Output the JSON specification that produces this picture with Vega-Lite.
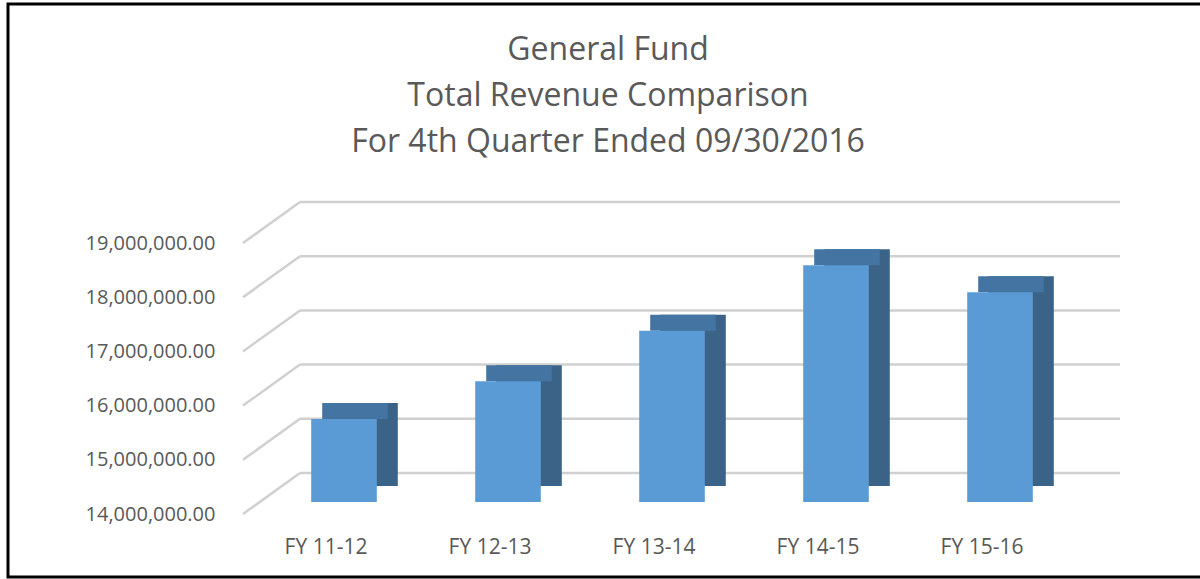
{
  "$schema": "https://vega.github.io/schema/vega-lite/v6.json",
  "width": 1200,
  "height": 573,
  "autosize": "none",
  "padding": {"left": 8, "top": 4, "right": 0, "bottom": 2},
  "background": "white",
  "config": {"view": {"stroke": "black", "strokeWidth": 3}, "font": "Open Sans"},
  "title": {
    "text": ["General Fund", "Total Revenue Comparison", "For 4th Quarter Ended 09/30/2016"],
    "anchor": "middle",
    "font": "Open Sans",
    "fontSize": 32,
    "fontWeight": "normal",
    "color": "#595959",
    "lineHeight": 46,
    "baseline": "bottom",
    "offset": -187
  },
  "datasets": {
    "revenue": [
      {"year": "FY 11-12", "revenue": 15530000},
      {"year": "FY 12-13", "revenue": 16230000},
      {"year": "FY 13-14", "revenue": 17160000},
      {"year": "FY 14-15", "revenue": 18370000},
      {"year": "FY 15-16", "revenue": 17870000}
    ],
    "ticks": [
      {"v": 14000000},
      {"v": 15000000},
      {"v": 16000000},
      {"v": 17000000},
      {"v": 18000000},
      {"v": 19000000}
    ]
  },
  "layer": [
    {
      "data": {"name": "revenue"},
      "mark": {"type": "bar", "color": "#5b9bd5", "width": {"band": 0.4}, "xOffset": -38, "yOffset": 29, "y2Offset": 29, "opacity": 0},
      "encoding": {
        "x": {
          "field": "year",
          "type": "nominal",
          "scale": {"type": "band", "domain": ["FY 11-12", "FY 12-13", "FY 13-14", "FY 14-15", "FY 15-16"], "range": [292, 1112], "paddingInner": 0, "paddingOuter": 0},
          "axis": {
            "orient": "bottom",
            "title": null,
            "ticks": false,
            "tickSize": 0,
            "domain": false,
            "grid": false,
            "labelAngle": 0,
            "labelPadding": 0,
            "offset": -24,
            "labelBaseline": "alphabetic",
            "labelOffset": -56,
            "labelFont": "Open Sans",
            "labelFontSize": 21,
            "labelColor": "#595959"
          }
        },
        "y": {
          "field": "revenue",
          "type": "quantitative",
          "scale": {"domain": [14000000, 19000000], "range": [469, 198], "nice": false, "zero": false},
          "axis": {
            "orient": "left",
            "title": null,
            "values": [14000000, 15000000, 16000000, 17000000, 18000000, 19000000],
            "format": ",.2f",
            "ticks": false,
            "tickSize": 0,
            "domain": false,
            "grid": false,
            "labelPadding": 0,
            "offset": -207,
            "labelOffset": 41,
            "labelBaseline": "middle",
            "labelOverlap": false,
            "labelFont": "Open Sans",
            "labelFontSize": 20,
            "labelColor": "#595959"
          }
        },
        "y2": {"datum": 14000000}
      }
    },
    {
      "data": {"name": "ticks"},
      "mark": {"type": "rule", "color": "#d0d0d0", "strokeWidth": 2.5, "xOffset": -82, "x2Offset": 82},
      "encoding": {
        "y": {"field": "v", "type": "quantitative"},
        "x": {"datum": "FY 11-12", "type": "nominal"},
        "x2": {"datum": "FY 15-16"}
      }
    },
    {
      "data": {"name": "ticks"},
      "mark": {"type": "rule", "color": "#d0d0d0", "strokeWidth": 2.5, "xOffset": -139, "x2Offset": -82, "yOffset": 41, "y2Offset": 0},
      "encoding": {
        "y": {"field": "v", "type": "quantitative"},
        "y2": {"field": "v"},
        "x": {"datum": "FY 11-12", "type": "nominal"},
        "x2": {"datum": "FY 11-12"}
      }
    },
    {
      "data": {"name": "revenue"},
      "mark": {"type": "bar", "color": "#3b6388", "width": {"band": 0.4}, "xOffset": -17, "yOffset": 13, "y2Offset": 13},
      "encoding": {
        "x": {"field": "year", "type": "nominal"},
        "y": {"field": "revenue", "type": "quantitative"},
        "y2": {"datum": 14000000}
      }
    },
    {
      "data": {"name": "revenue"},
      "mark": {"type": "bar", "color": "#4374a2", "width": {"band": 0.4}, "xOffset": -27, "yOffset": 13, "y2Offset": 29},
      "encoding": {
        "x": {"field": "year", "type": "nominal"},
        "y": {"field": "revenue", "type": "quantitative"},
        "y2": {"field": "revenue"}
      }
    },
    {
      "data": {"name": "revenue"},
      "mark": {"type": "bar", "color": "#5b9bd5", "width": {"band": 0.4}, "xOffset": -38, "yOffset": 29, "y2Offset": 29},
      "encoding": {
        "x": {"field": "year", "type": "nominal"},
        "y": {"field": "revenue", "type": "quantitative"},
        "y2": {"datum": 14000000}
      }
    }
  ]
}
